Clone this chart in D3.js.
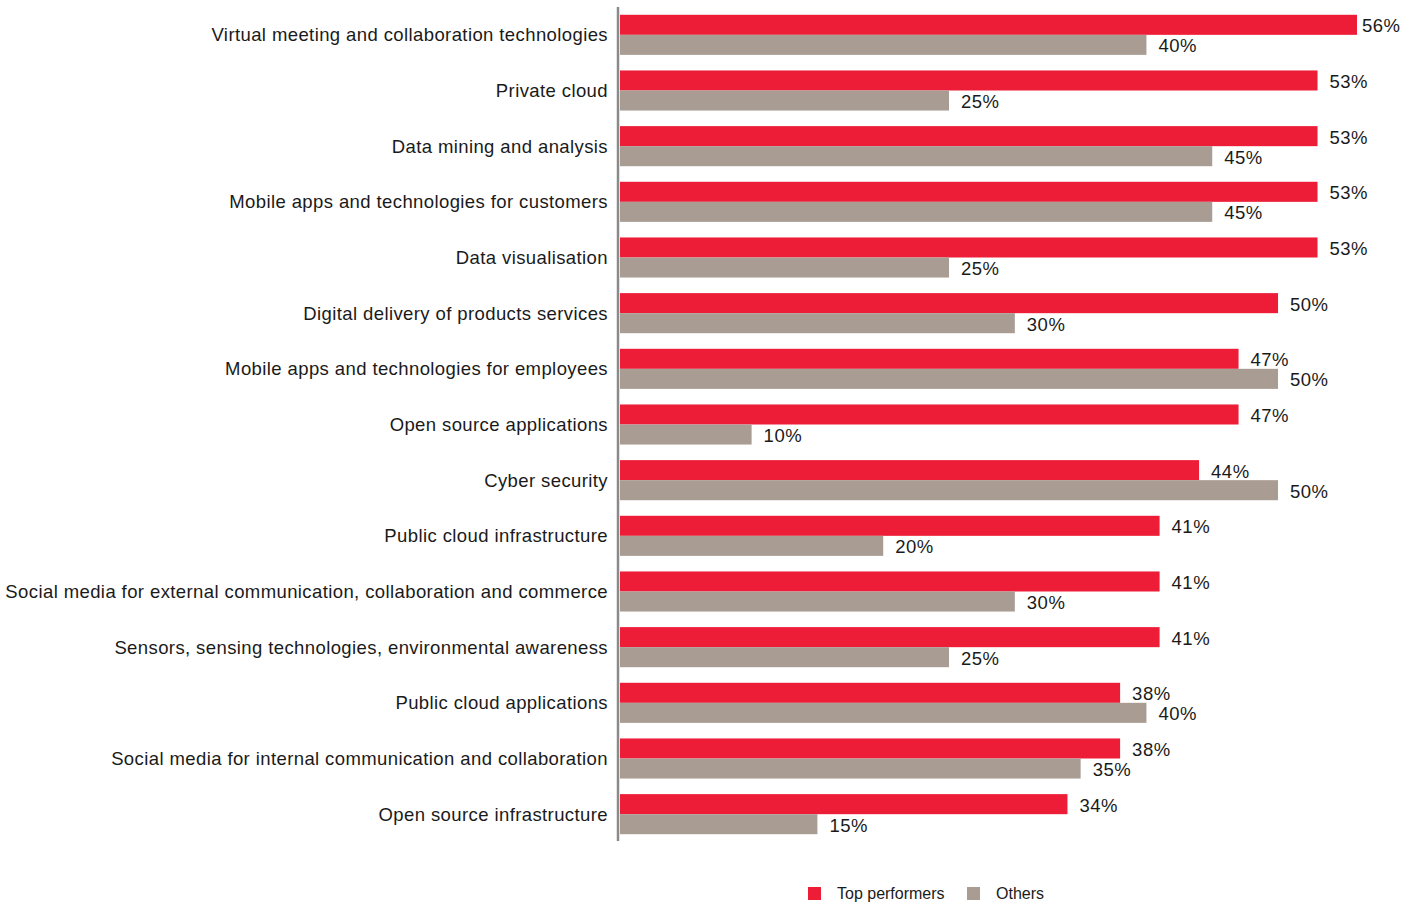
<!DOCTYPE html>
<html><head><meta charset="utf-8">
<script src="https://cdn.jsdelivr.net/npm/d3@7"></script>
<style>body{margin:0;background:#fff;}svg{display:block;font-family:"Liberation Sans",Arial,sans-serif;}</style>
</head><body>
<svg id="c" width="1418" height="905"></svg>
<script>
const categories = [
  "Virtual meeting and collaboration technologies",
  "Private cloud",
  "Data mining and analysis",
  "Mobile apps and technologies for customers",
  "Data visualisation",
  "Digital delivery of products services",
  "Mobile apps and technologies for employees",
  "Open source applications",
  "Cyber security",
  "Public cloud infrastructure",
  "Social media for external communication, collaboration and commerce",
  "Sensors, sensing technologies, environmental awareness",
  "Public cloud applications",
  "Social media for internal communication and collaboration",
  "Open source infrastructure"
];
const topPerformers = [56,53,53,53,53,50,47,47,44,41,41,41,38,38,34];
const others = [40,25,45,45,25,30,50,10,50,20,30,25,40,35,15];
const seriesNames = ["Top performers","Others"];
const colors = ["#ED1C37","#A89C93"];

const svg = d3.select("#c");
const x0 = 620;
const x = d3.scaleLinear().domain([0,56]).range([x0,1357]);
const y = d3.scaleBand().domain(categories).range([7,842]).paddingInner(0.28).paddingOuter(0.14);
const sub = d3.scaleBand().domain(seriesNames).range([0,y.bandwidth()]);

const rows = categories.map((c,i)=>({c, vals:[topPerformers[i],others[i]]}));

const g = svg.selectAll("g.row").data(rows).join("g").attr("class","row")
  .attr("transform",d=>`translate(0,${y(d.c)})`);

g.selectAll("rect").data(d=>d.vals.map((v,k)=>({v,k}))).join("rect")
  .attr("x",x0).attr("y",d=>sub(seriesNames[d.k]))
  .attr("width",d=>x(d.v)-x0).attr("height",sub.bandwidth())
  .attr("fill",d=>colors[d.k]);

g.selectAll("text.val").data(d=>d.vals.map((v,k)=>({v,k}))).join("text").attr("class","val")
  .attr("x",d=>x(d.v)+ (d.v===56?5:12))
  .attr("y",d=>sub(seriesNames[d.k])+sub.bandwidth()/2+1)
  .attr("dy","0.35em").attr("font-size",18.5).attr("letter-spacing","0.5px").attr("fill","#1a1a1a")
  .text(d=>d.v+"%");

g.append("text").attr("x",608).attr("y",y.bandwidth()/2).attr("dy","0.35em")
  .attr("text-anchor","end").attr("font-size",18.5).attr("letter-spacing","0.4px").attr("fill","#1a1a1a")
  .text(d=>d.c);

svg.append("line").attr("x1",618).attr("x2",618).attr("y1",7).attr("y2",841)
  .attr("stroke","#8a8a8a").attr("stroke-width",2.5);

const legendX = [808,967];
const lg = svg.selectAll("g.leg").data(seriesNames).join("g").attr("class","leg")
  .attr("transform",(d,i)=>`translate(${legendX[i]},887)`);
lg.append("rect").attr("width",13).attr("height",13).attr("fill",(d,i)=>colors[i]);
lg.append("text").attr("x",29).attr("y",6.5).attr("dy","0.35em").attr("font-size",16)
  .attr("fill","#1a1a1a").text(d=>d);
</script>
</body></html>
